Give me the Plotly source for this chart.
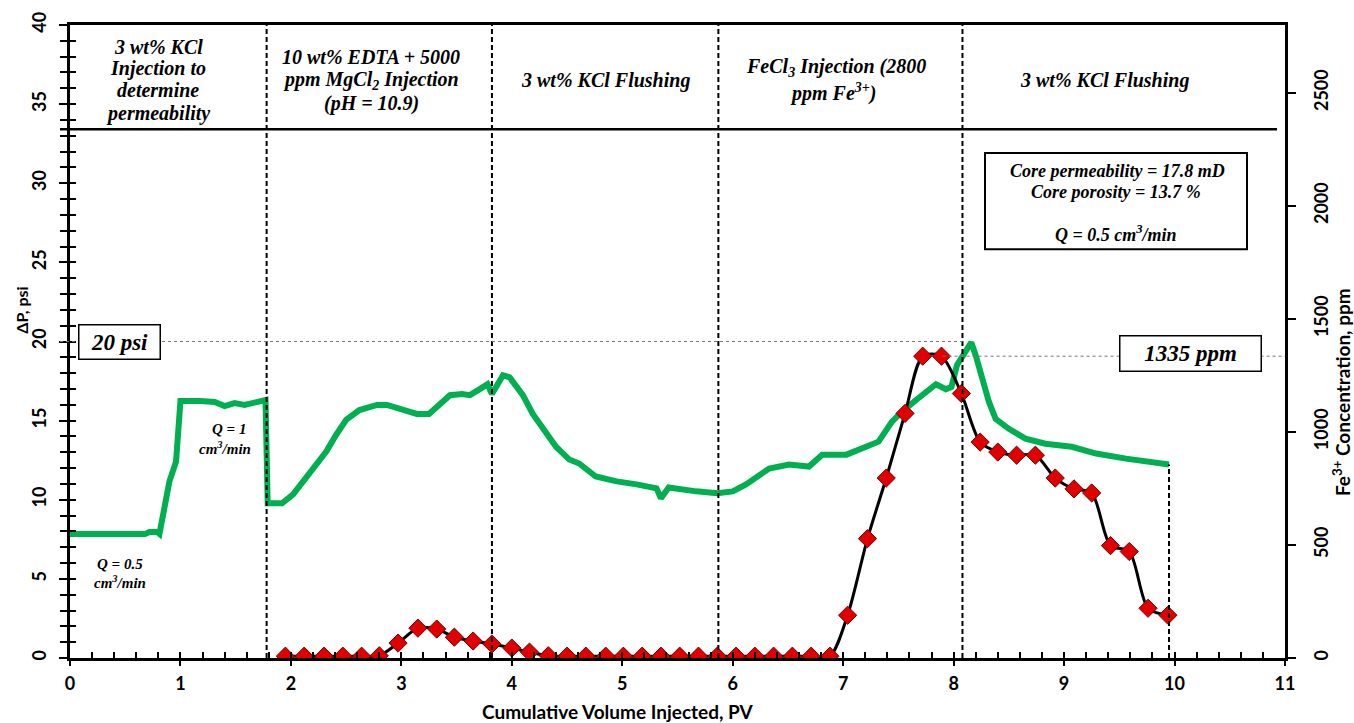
import plotly.graph_objects as go

# ---------------- data ----------------
pv_dp = [0.00, 0.68, 0.72, 0.79, 0.81, 0.84, 0.90, 0.96, 0.98, 1.00, 1.18, 1.31, 1.40, 1.49, 1.58, 1.67, 1.77,
         1.79, 1.92, 2.02, 2.11, 2.20, 2.32, 2.41, 2.50, 2.62, 2.78, 2.87, 2.98, 3.14, 3.25, 3.35, 3.44, 3.55,
         3.62, 3.71, 3.78, 3.82, 3.92, 3.98, 4.10, 4.19, 4.28, 4.40, 4.52, 4.61, 4.76, 4.95, 5.13, 5.31, 5.35,
         5.42, 5.67, 5.86, 6.00, 6.12, 6.33, 6.51, 6.69, 6.81, 7.03, 7.21, 7.32, 7.44, 7.53, 7.66, 7.75, 7.84,
         7.93, 7.98, 8.03, 8.11, 8.16, 8.20, 8.25, 8.32, 8.38, 8.50, 8.65, 8.83, 9.07, 9.29, 9.56, 9.76, 9.95]
dp_psi = [7.84, 7.84, 7.96, 7.96, 7.84, 8.84, 11.16, 12.41, 14.29, 16.24, 16.24, 16.18, 15.92, 16.11, 15.99, 16.11, 16.30,
          9.78, 9.78, 10.34, 11.16, 11.91, 13.04, 14.11, 15.05, 15.67, 15.99, 15.99, 15.74, 15.42, 15.42, 15.99, 16.61, 16.68,
          16.61, 16.99, 17.30, 16.68, 17.87, 17.74, 16.61, 15.42, 14.48, 13.35, 12.54, 12.29, 11.47, 11.16, 10.97, 10.72, 10.09,
          10.78, 10.53, 10.41, 10.53, 10.97, 11.97, 12.23, 12.10, 12.85, 12.85, 13.35, 13.67, 14.92, 15.55, 16.30, 16.80, 17.30,
          16.99, 17.12, 18.50, 19.50, 19.94, 19.12, 17.87, 16.18, 15.11, 14.48, 13.86, 13.54, 13.35, 12.92, 12.60, 12.41, 12.23]

pv_fe = [1.95, 2.12, 2.30, 2.47, 2.64, 2.80, 2.97, 3.15, 3.32, 3.48, 3.65, 3.82, 4.00, 4.16, 4.33, 4.50,
         4.67, 4.85, 5.01, 5.18, 5.35, 5.52, 5.69, 5.86, 6.03, 6.20, 6.37, 6.54, 6.71, 6.88, 7.04, 7.22,
         7.39, 7.56, 7.72, 7.89, 8.07, 8.24, 8.40, 8.57, 8.74, 8.92, 9.09, 9.25, 9.42, 9.59, 9.76, 9.94]
fe_ppm = [8, 8, 8, 8, 8, 10, 66, 132, 128, 92, 75, 62, 44, 26, 10, 8,
          8, 8, 8, 8, 8, 8, 8, 8, 8, 8, 8, 8, 8, 8, 189, 528,
          796, 1082, 1335, 1335, 1170, 955, 911, 897, 897, 796, 748, 730, 497, 471, 220, 189]

stage_bounds = [1.78, 3.82, 5.87, 8.08]
dp_ref_psi = 20
fe_peak_ppm = 1335

x_ticks = [0, 1, 2, 3, 4, 5, 6, 7, 8, 9, 10, 11]

# ---------------- layout helpers (pixel -> paper) ----------------
W, H = 1354, 723
L, R, T, B = 70, 1285, 20, 658


def X(px):
    return (px - L) / (R - L)


def Y(py):
    return (B - py) / (B - T)


SERIF = "Liberation Serif, Times New Roman, serif"
SANS = "Lato, Carlito, Calibri, sans-serif"

fig = go.Figure()

fig.add_trace(go.Scatter(
    x=pv_dp, y=dp_psi, mode="lines",
    line=dict(color="#00B050", width=6), showlegend=False, yaxis="y"))

fig.add_trace(go.Scatter(
    x=pv_fe, y=fe_ppm, mode="lines+markers",
    line=dict(color="black", width=3, shape="spline", smoothing=0.8),
    marker=dict(symbol="diamond", size=14, color="#E00000", line=dict(color="#7a0000", width=1)),
    showlegend=False, yaxis="y2"))

# empty trace to host the crossing-tick overlay axes
fig.add_trace(go.Scatter(x=[], y=[], xaxis="x2", yaxis="y3", showlegend=False))

shapes = []
for b in stage_bounds:
    shapes.append(dict(type="line", xref="x", yref="paper", x0=b, x1=b, y0=0, y1=1,
                       line=dict(color="black", width=2, dash="5px,3px")))
shapes.append(dict(type="line", xref="x", yref="y", x0=pv_dp[-1], x1=pv_dp[-1], y0=0, y1=dp_psi[-1],
                   line=dict(color="black", width=2, dash="5px,3px")))
# header separator
shapes.append(dict(type="line", xref="paper", yref="paper", x0=X(60), x1=X(1277), y0=Y(125), y1=Y(125),
                   line=dict(color="black", width=2.5)))
# reference dotted lines
shapes.append(dict(type="line", xref="paper", yref="paper", x0=X(60), x1=stage_bounds[-1] / 11,
                   y0=dp_ref_psi / 40, y1=dp_ref_psi / 40,
                   line=dict(color="#777777", width=1, dash="dot")))
shapes.append(dict(type="line", xref="x", yref="y2", x0=7.9, x1=11, y0=fe_peak_ppm, y1=fe_peak_ppm,
                   line=dict(color="#777777", width=1, dash="dot")))
# info box frame
shapes.append(dict(type="rect", xref="paper", yref="paper", x0=X(985), x1=X(1247), y0=Y(149), y1=Y(246),
                   line=dict(color="black", width=2), fillcolor="rgba(0,0,0,0)"))

annotations = []


def txt(s, px, py, size, family=SERIF, **kw):
    annotations.append(dict(text=s, xref="paper", yref="paper", x=X(px), y=Y(py),
                            xanchor="center", yanchor="middle", showarrow=False,
                            font=dict(family=family, size=size, color="black"), **kw))


def bi(s):
    return "<b><i>" + s + "</i></b>"


# header texts
for s, yy in [("3 wt% KCl", 42), ("Injection to", 64), ("determine", 86), ("permeability", 109)]:
    txt(bi(s), 158, yy, 20)
for s, yy in [("10 wt% EDTA + 5000", 52), ("ppm MgCl<sub>2</sub> Injection", 76), ("(pH = 10.9)", 99)]:
    txt(bi(s), 371, yy, 20)
txt(bi("3 wt% KCl Flushing"), 605, 76, 20)
txt(bi("FeCl<sub>3</sub> Injection (2800"), 836, 63, 20)
txt(bi("ppm Fe<sup>3+</sup>)"), 833, 88, 20)
txt(bi("3 wt% KCl Flushing"), 1104, 76, 20)

# info box text
txt(bi("Core permeability = 17.8 mD"), 1117, 167, 18)
txt(bi("Core porosity = 13.7 %"), 1116, 188, 18)
txt(bi("Q = 0.5 cm<sup>3</sup>/min"), 1116, 230, 18)

# value boxes
annotations.append(dict(text=bi("20 psi"), xref="paper", yref="paper", x=X(78), y=Y(321), xanchor="left",
                        yanchor="top", showarrow=False, width=80, height=33, bgcolor="white",
                        bordercolor="black", borderwidth=1.5, borderpad=0,
                        font=dict(family=SERIF, size=23, color="black")))
annotations.append(dict(text=bi("1335 ppm"), xref="paper", yref="paper", x=X(1119), y=Y(332), xanchor="left",
                        yanchor="top", showarrow=False, width=140, height=34, bgcolor="white",
                        bordercolor="black", borderwidth=1.5, borderpad=0,
                        font=dict(family=SERIF, size=23, color="black")))

# flow-rate notes
txt(bi("Q = 1"), 229, 427, 15)
txt(bi("cm<sup>3</sup>/min"), 225, 446, 15)
txt(bi("Q = 0.5"), 120, 563, 15)
txt(bi("cm<sup>3</sup>/min"), 120, 581, 15)

# axis titles
annotations.append(dict(text="<b>ΔP, psi</b>", xref="paper", yref="paper", x=X(22), y=Y(308), textangle=-90,
                        showarrow=False, xanchor="center", yanchor="middle",
                        font=dict(family=SANS, size=16, color="black")))
annotations.append(dict(text="<b>Fe<sup>3+</sup> Concentration, ppm</b>", xref="paper", yref="paper",
                        x=X(1341), y=Y(390), textangle=-90, showarrow=False, xanchor="center", yanchor="middle",
                        font=dict(family=SANS, size=19, color="black")))
annotations.append(dict(text="<b>Cumulative Volume Injected, PV</b>", xref="paper", yref="paper",
                        x=X(618), y=Y(712), showarrow=False, xanchor="center", yanchor="middle",
                        font=dict(family=SANS, size=19, color="black")))

tickfont = dict(family=SANS, size=18, color="black", weight="bold")

fig.update_layout(
    width=W, height=H, margin=dict(l=L, r=W - R, t=T, b=H - B),
    paper_bgcolor="white", plot_bgcolor="white",
    shapes=shapes, annotations=annotations,
    xaxis=dict(range=[0, 11], tickvals=x_ticks, showgrid=False, zeroline=False,
               showline=True, linecolor="black", linewidth=3, mirror=True,
               ticks="outside", ticklen=5, tickwidth=1.5, tickcolor="black", tickfont=tickfont,
               ticklabelstandoff=2),
    xaxis2=dict(range=[0, 11], overlaying="x", anchor="y", side="bottom", dtick=0.2, tick0=0,
                showgrid=False, zeroline=False, showline=False, showticklabels=False,
                ticks="inside", ticklen=6, tickwidth=1.5, tickcolor="black"),
    yaxis=dict(range=[0, 40], dtick=5, showgrid=False, zeroline=False,
               showline=True, linecolor="black", linewidth=3,
               ticks="outside", ticklen=8, tickwidth=1.5, tickcolor="black",
               minor=dict(dtick=1, ticks="outside", ticklen=7, tickwidth=1.5, tickcolor="black"),
               tickangle=-90, tickfont=tickfont, ticklabelstandoff=6),
    yaxis3=dict(range=[0, 40], overlaying="y", anchor="x", side="left", dtick=1,
                showgrid=False, zeroline=False, showline=False, showticklabels=False,
                ticks="inside", ticklen=6, tickwidth=1.5, tickcolor="black"),
    yaxis2=dict(range=[0, 2800], dtick=500, overlaying="y", side="right", anchor="x",
                showgrid=False, zeroline=False, showline=True, linecolor="black", linewidth=3,
                ticks="outside", ticklen=8, tickwidth=1.5, tickcolor="black",
                tickangle=-90, tickfont=tickfont, ticklabelstandoff=10),
)

fig.write_html("out.html")
